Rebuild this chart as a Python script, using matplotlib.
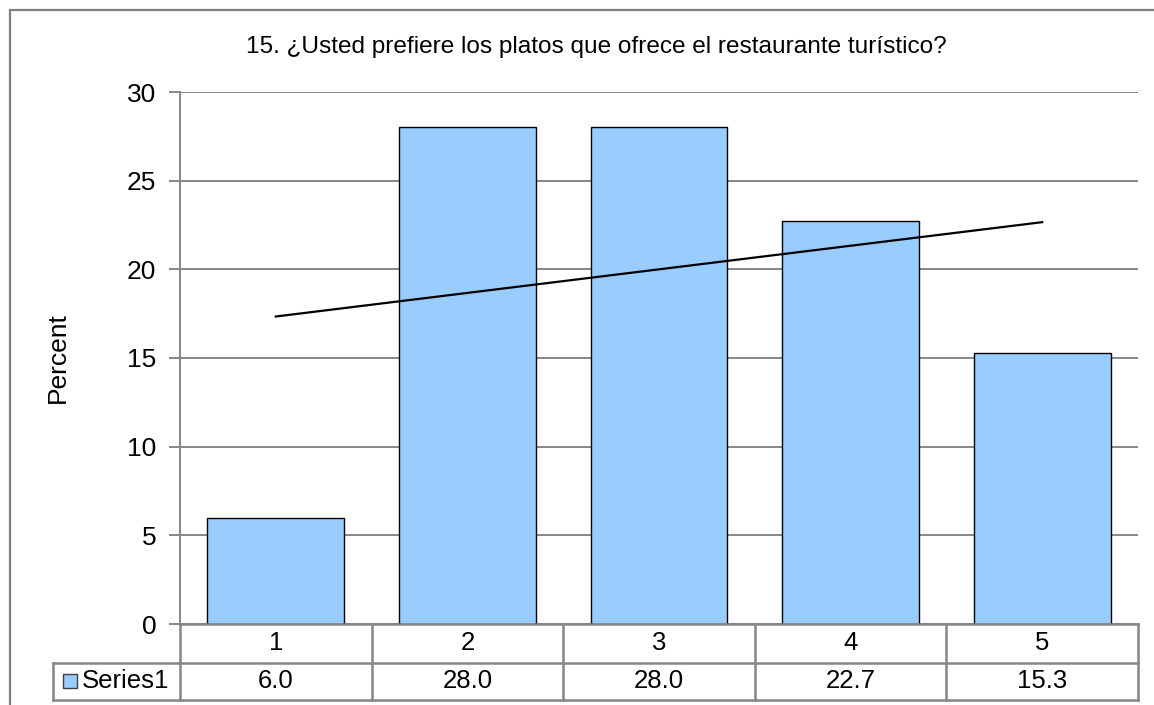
import matplotlib
matplotlib.use("Agg")
import matplotlib.pyplot as plt
import matplotlib.transforms as mtransforms
from matplotlib.patches import Rectangle
import numpy as np

plt.rcParams['font.family'] = ['Liberation Sans', 'DejaVu Sans']

# Data
categories = [1, 2, 3, 4, 5]
percent = [6.0, 28.0, 28.0, 22.7, 15.3]
series_name = "Series1"
title = "15. ¿Usted prefiere los platos que ofrece el restaurante turístico?"
y_label = "Percent"
y_ticks = [0, 5, 10, 15, 20, 25, 30]

W, H = 1154, 705
fig = plt.figure(figsize=(W / 100, H / 100), dpi=100)

def px_x(x):
    return x / W

def px_y(y):
    return 1 - y / H

# Plot area
left, right, top, bottom = 180, 1138, 92, 624
ax = fig.add_axes([px_x(left), px_y(bottom), px_x(right) - px_x(left), px_y(top) - px_y(bottom)])

grid_col = "#868686"
bar_col = "#99CCFF"

x = np.arange(len(categories)) + 1
ax.bar(x, percent, width=0.715, color=bar_col, edgecolor="black", linewidth=1.0, zorder=3)

# Linear trendline
coef = np.polyfit(x, percent, 1)
ax.plot([x[0], x[-1]], np.polyval(coef, [x[0], x[-1]]), color="black", linewidth=1.6, zorder=4)

ax.set_xlim(0.5, len(categories) + 0.5)
ax.set_ylim(0, 30)
ax.set_yticks(y_ticks)
ax.set_xticks([])
ax.yaxis.grid(True, color=grid_col, linewidth=1.4, zorder=0)
ax.set_axisbelow(True)
for s in ["top", "right", "bottom"]:
    ax.spines[s].set_visible(False)
ax.spines["left"].set_color(grid_col)
ax.spines["left"].set_linewidth(1.4)
ax.tick_params(axis="y", length=8, width=1.4, color=grid_col, labelsize=19, pad=9)
fig.text(px_x(58), px_y(358), y_label, rotation=90, ha="center", va="center", fontsize=19)

# Data table under the plot
trans = mtransforms.blended_transform_factory(ax.transData, ax.transAxes)
ax_h = bottom - top
r1 = -(663 - bottom) / ax_h
r2 = -(700 - bottom) / ax_h
tbl_left = (53 - left) / (right - left)
tline = dict(color=grid_col, linewidth=1.8, clip_on=False, zorder=5)

x0, x1 = 0.5, len(categories) + 0.5
ax.plot([x0, x1], [0, 0], transform=trans, **tline)
ax.plot([x0, x1], [r1, r1], transform=trans, **tline)
ax.plot([x0, x1], [r2, r2], transform=trans, **tline)
ax.plot([tbl_left, 0], [r1, r1], transform=ax.transAxes, **tline)
ax.plot([tbl_left, 0], [r2, r2], transform=ax.transAxes, **tline)
ax.plot([tbl_left, tbl_left], [r1, r2], transform=ax.transAxes, **tline)
for b in np.arange(len(categories) + 1) + 0.5:
    ax.plot([b, b], [0, r2], transform=trans, **tline)

for xi, c, v in zip(x, categories, percent):
    ax.text(xi, (0 + r1) / 2, str(c), transform=trans, ha="center", va="center", fontsize=18.5)
    ax.text(xi, (r1 + r2) / 2, f"{v:.1f}", transform=trans, ha="center", va="center", fontsize=18.5)

# Legend key and series name in the table
ax.add_patch(Rectangle((px_x(63), px_y(688)), px_x(14), px_y(674) - px_y(688),
                       transform=fig.transFigure, facecolor=bar_col, edgecolor="#404040",
                       linewidth=1.0, clip_on=False, zorder=6))
fig.text(px_x(82), px_y(681.5), series_name, ha="left", va="center", fontsize=18.5)

# Title
fig.text(px_x(596), px_y(47), title, ha="center", va="center", fontsize=17.6)

# Chart area border
fig.add_artist(Rectangle((px_x(9.5), -0.1), 1.2, px_y(10.5) + 0.1, transform=fig.transFigure,
                         fill=False, edgecolor="#808080", linewidth=1.6))

fig.savefig("out.png", dpi=100, facecolor="white")
